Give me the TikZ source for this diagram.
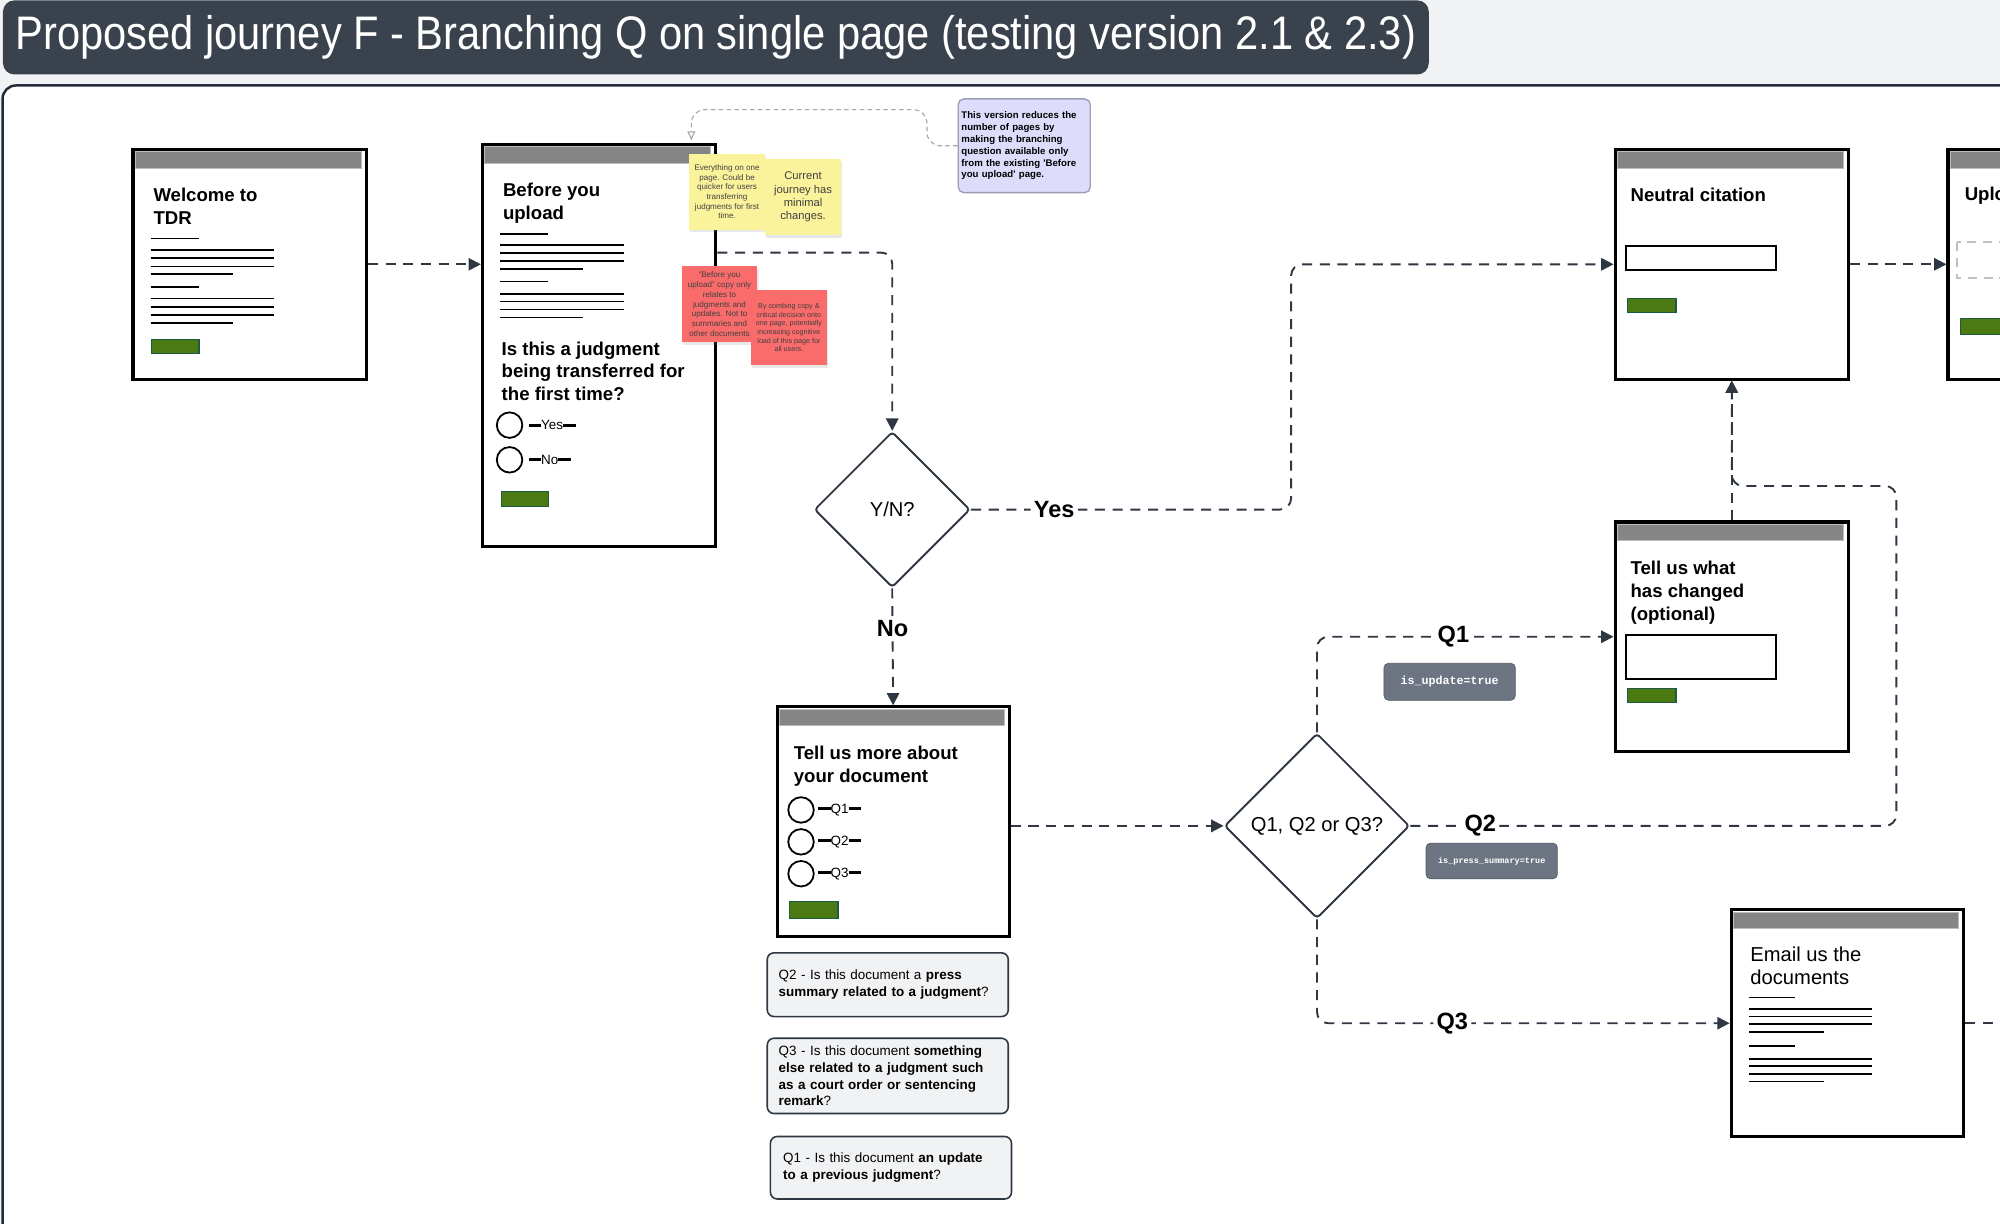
\documentclass[tikz,border=0pt]{standalone}
\usepackage{fontspec}
\setmainfont{Liberation Sans}
\setmonofont{Liberation Mono}
\newfontfamily\narrowfont[FakeStretch=0.885]{Liberation Sans}
\usepackage{tikz}
\usetikzlibrary{shapes.geometric,arrows.meta,shadows}

\definecolor{canvas}{HTML}{F1F2F4}
\definecolor{slate}{HTML}{3A424D}
\definecolor{framedark}{HTML}{222C38}
\definecolor{bargray}{HTML}{858585}
\definecolor{btngreen}{HTML}{4B7A12}
\definecolor{btnedge}{HTML}{1E5B44}
\definecolor{stickyyellow}{HTML}{FBF39C}
\definecolor{stickyred}{HTML}{FA6B6B}
\definecolor{notefill}{HTML}{DDDDFB}
\definecolor{noteedge}{HTML}{9B9CB5}
\definecolor{taggray}{HTML}{6D7482}
\definecolor{flowgray}{HTML}{2F3743}

\begin{document}
\begin{tikzpicture}[x=0.02cm,y=-0.02cm,
    page/.style={draw=black,line width=1.4pt,fill=white,anchor=north west,inner sep=0pt,
      minimum width=3.66cm,minimum height=3.6cm},
    bar/.style={fill=bargray,draw=bargray!55,line width=0.3pt},
    button/.style={fill=btngreen,draw=btnedge,line width=0.5pt},
    textline/.style={line width=0.75pt},
    pagetitle/.style={anchor=north west,align=left,inner sep=0pt,font=\bfseries\fontsize{8.3}{10.2}\selectfont},
    option/.style={anchor=west,inner sep=0pt,font=\fontsize{6}{7}\selectfont,
      execute at begin node={\rule[1.4pt]{5.6pt}{1.3pt}},execute at end node={\rule[1.4pt]{5.6pt}{1.3pt}}},
    radio/.style={line width=0.8pt},
    field/.style={line width=0.9pt},
    flow/.style={draw=flowgray,line width=0.85pt,dash pattern=on 4.5pt off 3.4pt,rounded corners=5pt},
    tip/.style={-{Triangle[length=5.5pt,width=5.5pt]}},
    decision/.style={diamond,aspect=1,draw=flowgray,line width=0.85pt,fill=white,inner sep=0pt,
      rounded corners=1.5pt,font=\fontsize{9}{11}\selectfont},
    branch/.style={fill=white,inner sep=1.5pt,font=\bfseries\fontsize{10.5}{12}\selectfont},
    sticky/.style={inner sep=0pt,align=center,text=black!75,minimum size=1.19cm,
      drop shadow={opacity=0.18,shadow xshift=0.6pt,shadow yshift=-1.2pt}},
    tag/.style={fill=taggray,draw=taggray!80!black,line width=0.3pt,rounded corners=2pt,text=white,inner sep=0pt},
    question/.style={fill=canvas,draw=flowgray,line width=0.7pt,rounded corners=3pt,align=left,
      inner ysep=0pt,font=\fontsize{6}{7.4}\selectfont},
    notelink/.style={draw=gray!70,line width=0.5pt,dash pattern=on 2pt off 1.5pt,rounded corners=6pt,
      -{Triangle[open,length=4pt,width=3.5pt]}}
  ]
  \useasboundingbox (0,0) rectangle (1568,959);
  \clip (0,0) rectangle (1568,959);
  \fill[canvas] (0,0) rectangle (1568,959);

  % heading and board
  \node[fill=slate,rounded corners=5pt,anchor=north west,inner sep=0pt,
        minimum width=22.36cm,minimum height=1.16cm,text=white,
        font=\narrowfont\fontsize{21}{24}\selectfont] (title) at (2,0)
        {Proposed journey F - Branching Q on single page (testing version 2.1 \& 2.3)};
  \draw[draw=framedark,line width=1.1pt,fill=white,rounded corners=6pt] (2,67) rectangle (1640,1020);

  % Welcome to TDR
  \node[page] (welcome) at (103,116) {};
  \begin{scope}[shift={(103,116)}]
    \filldraw[bar] (3,3) rectangle (180,16);
    \node[pagetitle] at (17,31) {Welcome to\\TDR};
    \foreach \y/\w in {0/38,9/97,15.5/97,22/97,28/65,38/38,47/97,53.5/97,60/97,66.5/65}
      \draw[textline] (15,71+\y) -- ++(\w,0);
    \filldraw[button] (16,150) rectangle (53,161);
  \end{scope}

  % Before you upload
  \node[page,minimum height=6.3cm] (before) at (377,112) {};
  \begin{scope}[shift={(377,112)}]
    \filldraw[bar] (3,3) rectangle (180,16);
    \node[pagetitle] at (17,31.5) {Before you\\upload};
    \foreach \y/\w in {0/38,9/97,15.3/97,21.4/97,27.6/65,37.5/38,47/97,53/97,59.4/97,65.7/65}
      \draw[textline] (15,71.3+\y) -- ++(\w,0);
    \node[pagetitle] at (16,155.5) {Is this a judgment\\being transferred for\\the first time?};
    \draw[radio] (22.5,221.3) circle [radius=0.2cm];
    \draw[radio] (22.5,248.5) circle [radius=0.2cm];
    \node[option] at (37,221.3) {Yes};
    \node[option] at (37,248.5) {No};
    \filldraw[button] (16,273) rectangle (53,285);
  \end{scope}

  % Tell us more about your document
  \node[page,minimum width=3.64cm] (more) at (608,553) {};
  \begin{scope}[shift={(608,553)}]
    \filldraw[bar] (3,3) rectangle (179,16);
    \node[pagetitle] at (14,31.5) {Tell us more about\\your document};
    \draw[radio] (20,82) circle [radius=0.2cm];
    \draw[radio] (20,107) circle [radius=0.2cm];
    \draw[radio] (20,132) circle [radius=0.2cm];
    \node[option] at (33,82) {Q1};
    \node[option] at (33,107) {Q2};
    \node[option] at (33,132) {Q3};
    \filldraw[button] (11,154) rectangle (49,167);
  \end{scope}

  % Neutral citation
  \node[page] (neutral) at (1265,116) {};
  \begin{scope}[shift={(1265,116)}]
    \filldraw[bar] (3,3) rectangle (180,16);
    \node[pagetitle] at (13,31) {Neutral citation};
    \draw[field] (10,77) rectangle (127,96);
    \filldraw[button] (11,118) rectangle (49,129);
  \end{scope}

  % Tell us what has changed
  \node[page] (changed) at (1265,408) {};
  \begin{scope}[shift={(1265,408)}]
    \filldraw[bar] (3,3) rectangle (180,16);
    \node[pagetitle] at (13,31.5) {Tell us what\\has changed\\(optional)};
    \draw[field] (10,90) rectangle (127,124);
    \filldraw[button] (11,132) rectangle (49,143);
  \end{scope}

  % Upload (cut off by the edge)
  \node[page] (upload) at (1526,116) {};
  \begin{scope}[shift={(1526,116)}]
    \filldraw[bar] (3,3) rectangle (180,16);
    \node[pagetitle] at (14,30.5) {Upload};
    \draw[gray!50,line width=0.8pt,dash pattern=on 4pt off 3pt] (8,74) rectangle (80,102);
    \filldraw[button] (11,134) rectangle (60,146);
  \end{scope}

  % Email us the documents
  \node[page,minimum width=3.64cm,minimum height=3.56cm] (email) at (1356,712) {};
  \begin{scope}[shift={(1356,712)}]
    \filldraw[bar] (3,3) rectangle (179,16);
    \node[pagetitle,font=\fontsize{9}{10.2}\selectfont] at (16,30) {Email us the\\documents};
    \foreach \y/\w in {0/36,9/97,15/97,21/97,27/59,38/36,48/97,54/97,60/97,66/59}
      \draw[textline] (15,70+\y) -- ++(\w,0);
  \end{scope}

  % sticky notes
  \node[sticky,fill=stickyyellow,font=\fontsize{3.6}{4.3}\selectfont] (stickyquick) at (570,150.3)
    {Everything on one\\page. Could be\\quicker for users\\transferring\\judgments for first\\time.};
  \node[sticky,fill=stickyyellow,font=\fontsize{5}{5.9}\selectfont] (stickycurrent) at (629.6,154.5)
    {Current\\journey has\\minimal\\changes.};
  \node[sticky,fill=stickyred,font=\fontsize{3.6}{4.4}\selectfont] (stickycopy) at (564.1,238.5)
    {"Before you\\upload" copy only\\relates to\\judgments and\\updates. Not to\\summaries and\\other documents};
  \node[sticky,fill=stickyred,font=\fontsize{3.2}{3.85}\selectfont] (stickyload) at (618.5,256.8)
    {By combing copy \&\\critical decision onto\\one page, potentially\\increasing cognitive\\load of this page for\\all users.};

  \node[fill=notefill,draw=noteedge,line width=0.6pt,rounded corners=2.5pt,inner xsep=0.05cm,
        text width=1.97cm,minimum height=1.47cm,align=left,
        font=\bfseries\fontsize{4.3}{5.3}\selectfont] (note) at (803,114.3)
    {This version reduces the\\number of pages by\\making the branching\\question available only\\from the existing \textquotesingle Before\\you upload\textquotesingle{} page.};
  \coordinate (notetarget) at (542,110);
  \draw[notelink] (note.west) -- ++(-24,0) |- (notetarget |- 0,86) -- (notetarget);

  % decisions
  \node[decision,minimum size=2.44cm] (yn) at (699.5,399.5) {Y/N?};
  \node[decision,minimum size=2.9cm] (q) at (1032.5,647.5) {Q1, Q2 or Q3?};

  % flow
  \draw[flow,tip] (welcome.east) -- (before.west |- welcome.east);
  \draw[flow,tip] (before.east |- 0,198) -| (yn.north);
  \draw[flow,tip] (yn.east) -- node[branch,pos=0.26]{Yes} ++(251,0) |- (neutral.west);
  \draw[flow,tip] (yn.south) -- node[branch,pos=0.34]{No} (more.north);
  \draw[flow,tip] (more.east |- q.west) -- (q.west);
  \draw[flow,tip] (q.north) |- node[branch,pos=0.73]{Q1} (changed.west);
  \draw[flow,tip] (q.east) -- node[branch,pos=0.144]{Q2} ++(381,0) |- (neutral.south |- 0,381) -- (neutral.south);
  \draw[flow,tip] (changed.north) -- (neutral.south);
  \draw[flow,tip] (q.south) |- node[branch,pos=0.664]{Q3} (email.west);
  \draw[flow,tip] (neutral.east) -- (upload.west);
  \draw[flow] (email.east) -- ++(60,0);

  % tags
  \node[tag,minimum width=2.06cm,minimum height=0.58cm,font=\ttfamily\bfseries\fontsize{5.2}{6}\selectfont]
    (updatetag) at (1136.5,534.5) {is\_update=true};
  \node[tag,minimum width=2.06cm,minimum height=0.56cm,font=\ttfamily\bfseries\fontsize{3.8}{5}\selectfont]
    (presstag) at (1169.5,675) {is\_press\_summary=true};

  % question wording
  \node[question,text width=3.42cm,inner xsep=0.18cm,minimum height=1cm] (qtwo) at (696,772)
    {Q2 - Is this document a \textbf{press}\\\textbf{summary related to a judgment}?};
  \node[question,text width=3.42cm,inner xsep=0.18cm,minimum height=1.18cm] (qthree) at (696,843.5)
    {Q3 - Is this document \textbf{something}\\\textbf{else related to a judgment such}\\\textbf{as a court order or sentencing}\\\textbf{remark}?};
  \node[question,text width=3.38cm,inner xsep=0.2cm,minimum height=0.98cm] (qone) at (698.5,915.5)
    {Q1 - Is this document \textbf{an update}\\\textbf{to a previous judgment}?};
\end{tikzpicture}
\end{document}
